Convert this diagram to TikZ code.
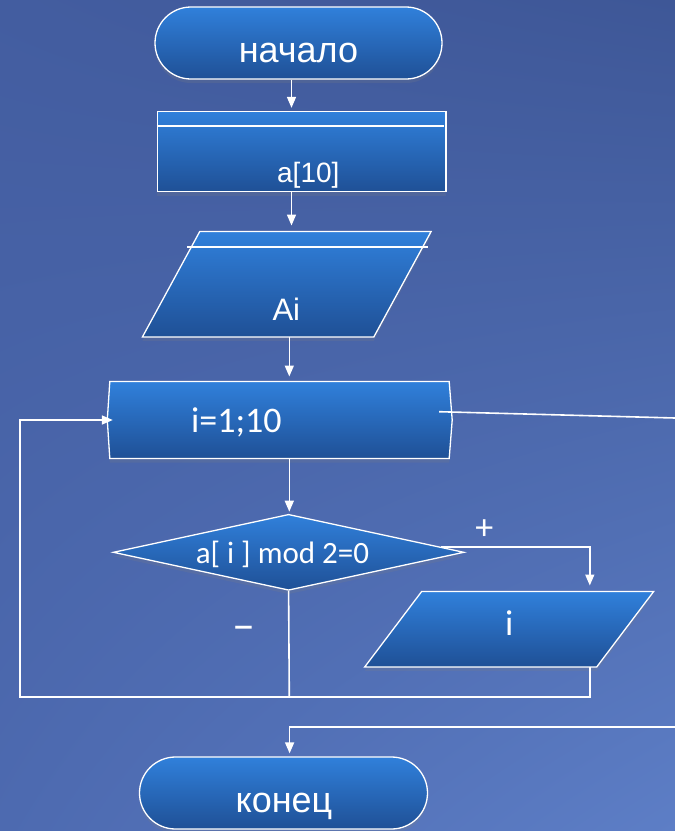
\documentclass[tikz,border=0pt]{standalone}
\usepackage{fontspec}
\setmainfont{Liberation Sans}
\newfontfamily\calib{Carlito}
\usetikzlibrary{arrows.meta,shapes.geometric,shapes.misc,shadows,shadings}

\definecolor{bgTL}{RGB}{67,93,160}
\definecolor{bgTR}{RGB}{62,87,151}
\definecolor{bgBL}{RGB}{77,106,176}
\definecolor{bgBR}{RGB}{93,126,198}
\definecolor{boxTop}{RGB}{48,128,219}
\definecolor{boxBot}{RGB}{31,80,150}

\tikzset{
    paint/.style={draw=white, line width=1.3pt, top color=boxTop, bottom color=boxBot,
        drop shadow={shadow xshift=0pt, shadow yshift=-4pt, opacity=.2}},
    block/.style={paint, inner sep=0pt},
    frame/.style={inner sep=0pt},
    term/.style={block, rounded rectangle, minimum width=288pt, minimum height=72pt},
    flow/.style={white, line width=1.6pt},
    arrow/.style={flow, -{Triangle[width=9pt,length=11pt]}},
    txtA/.style={text=white, anchor=base, inner sep=0pt},
    txtC/.style={text=white, anchor=base, inner sep=0pt, font=\calib\fontsize{36}{40}\selectfont},
}

\begin{document}
\begin{tikzpicture}[x=1pt, y=-1pt]
    \useasboundingbox (0,0) rectangle (675,831);
    \shade[upper left=bgTL, upper right=bgTR, lower left=bgBL, lower right=bgBR]
        (0,0) rectangle (675,831);

    % shapes
    \node[term, minimum width=287pt] (start) at (298.5,43) {};
    \node[block, minimum width=288.7pt, minimum height=80pt] (decl) at (301.7,151.5) {};
    \draw[flow] ([yshift=-15.3pt]decl.north west) -- ([xshift=-3pt,yshift=-15.3pt]decl.north east);

    \node[frame, minimum width=288.3pt, minimum height=105pt] (inp) at (286.8,284.2) {};
    \shade[paint] ([xshift=57.3pt]inp.north west) -- (inp.north east)
        -- ([xshift=-57.3pt]inp.south east) -- (inp.south west) -- cycle;
    \draw[flow] ([xshift=-99.5pt,yshift=-15.3pt]inp.north) -- ([xshift=141.5pt,yshift=-15.3pt]inp.north);

    \node[frame, minimum width=339pt, minimum height=76.6pt] (loop) at (279.5,420) {};
    \shade[paint] (loop.north west) -- ([xshift=-2.5pt]loop.west) -- (loop.south west)
        -- (loop.south east) -- ([xshift=3pt]loop.east) -- (loop.north east) -- cycle;

    \node[block, diamond, minimum width=350.8pt, minimum height=76pt] (cond) at (288.6,552.3) {};

    \node[frame, minimum width=288.5pt, minimum height=75pt] (outp) at (509.2,629.2) {};
    \shade[paint] ([xshift=56.9pt]outp.north west) -- (outp.north east)
        -- ([xshift=-56.9pt]outp.south east) -- (outp.south west) -- cycle;

    \node[term] (stop) at (283.5,793) {};

    % texts
    \node[txtA, font=\fontsize{36}{40}\selectfont] (startTxt) at (298.5,62) {начало};
    \node[txtA, font=\fontsize{28}{32}\selectfont] (declTxt) at (308.3,182.7) {a[10]};
    \node[txtA, font=\fontsize{31}{34}\selectfont] (inpTxt) at (286.3,320.7) {Ai};
    \node[txtC] (loopTxt) at (236.4,432.7) {i=1;10};
    \node[txtC, font=\calib\fontsize{31}{34}\selectfont] (condTxt) at (282.4,563.3) {a[ i ] mod 2=0};
    \node[txtC] (outpTxt) at (509.3,635.7) {i};
    \node[txtA, font=\fontsize{36}{40}\selectfont] (stopTxt) at (284,812) {конец};
    \node[txtC, anchor=center] (yes) at (484.3,529.3) {+};
    \node[txtC, anchor=center, font=\calib\fontsize{46}{50}\selectfont] (no) at (244,633.3) {–};

    % connectors
    \coordinate (join) at (289.3,696.7);
    \coordinate (back) at (20,696.7);
    \coordinate (exit) at (675,418);
    \coordinate (entry) at (675,726.7);

    \draw[arrow, shorten >=3pt] (start.south -| 291.5,0) -- (decl.north -| 291.5,0);
    \draw[arrow, shorten >=6pt] (decl.south -| 291.5,0) -- (inp.north -| 291.5,0);
    \draw[arrow, shorten >=5pt] (inp.south -| join) -- (loop.north -| join);
    \draw[arrow, shorten >=2pt] (loop.south -| join) -- (cond.north -| join);
    \draw[arrow, shorten >=6pt] (cond.2) -| ([xshift=80.6pt]outp.north);
    \draw[flow] ([xshift=80.6pt]outp.south) |- (join);
    \draw[flow] (cond.south) -- (join);
    \draw[arrow] (join) -- (back) |- ([xshift=3pt]loop.west);
    \draw[flow] ([xshift=-10pt,yshift=8.3pt]loop.east) -- (exit);
    \draw[arrow, shorten >=3pt] (entry) -| (stop.north -| 289.6,0);
\end{tikzpicture}
\end{document}
